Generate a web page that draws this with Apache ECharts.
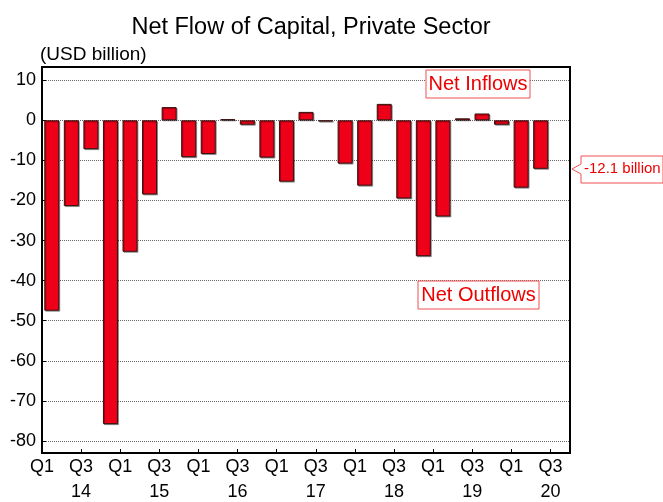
<!DOCTYPE html>
<html>
<head>
<meta charset="utf-8">
<script src="https://cdn.jsdelivr.net/npm/echarts@6/dist/echarts.min.js"></script>
<style>
  html, body { margin: 0; padding: 0; background: #fff; }
  #chart { width: 663px; height: 502px; }
</style>
</head>
<body>
<div id="chart"></div>
<script>
// Trimestres 2014Q1 -> 2020Q3 (le dernier est vide)
const quarters = [
    '14Q1', '14Q2', '14Q3', '14Q4',
    '15Q1', '15Q2', '15Q3', '15Q4',
    '16Q1', '16Q2', '16Q3', '16Q4',
    '17Q1', '17Q2', '17Q3', '17Q4',
    '18Q1', '18Q2', '18Q3', '18Q4',
    '19Q1', '19Q2', '19Q3', '19Q4',
    '20Q1', '20Q2', '20Q3'
];

// Flux net (USD milliards)
const netFlows = [
    -47.5, -21.4, -7.2, -75.8,
    -32.8, -18.5, 3.3, -9.2,
    -8.4, 0.3, -1.1, -9.3,
    -15.3, 2.1, -0.3, -10.8,
    -16.3, 4.1, -19.5, -33.9,
    -24.0, 0.5, 1.7, -1.1,
    -16.8, -12.1
];

// Libellés aux limites entre trimestres (28 limites)
const tickLabels = [
    'Q1', '', 'Q3\n14', '',
    'Q1', '', 'Q3\n15', '',
    'Q1', '', 'Q3\n16', '',
    'Q1', '', 'Q3\n17', '',
    'Q1', '', 'Q3\n18', '',
    'Q1', '', 'Q3\n19', '',
    'Q1', '', 'Q3\n20', ''
];

const yTicks = [-80, -70, -60, -50, -40, -30, -20, -10, 0, 10];

const FONT = '"Liberation Sans", Arial, sans-serif';
const RED = '#ee0018';

const chart = echarts.init(document.getElementById('chart'), null, { renderer: 'canvas' });

const option = {
    animation: false,
    title: {
        text: 'Net Flow of Capital, Private Sector',
        left: 306,
        top: 11,
        textAlign: 'center',
        textStyle: { fontFamily: FONT, fontSize: 23.5, fontWeight: 'normal', color: '#000' }
    },
    grid: {
        left: 42, right: 93, top: 67, bottom: 49,
        outerBoundsMode: 'none',
        containLabel: false,
        show: true,
        borderColor: '#000',
        borderWidth: 2,
        backgroundColor: 'transparent'
    },
    xAxis: [
        {
            type: 'category',
            data: quarters,
            axisLine: { show: false },
            axisTick: { show: false },
            axisLabel: { show: false },
            splitLine: { show: false }
        },
        {
            type: 'category',
            data: tickLabels,
            boundaryGap: false,
            position: 'bottom',
            axisLine: { show: true, lineStyle: { color: '#000', width: 2 } },
            axisTick: { show: true, inside: true, interval: 1, length: 4, lineStyle: { color: '#000' } },
            axisLabel: {
                interval: 0,
                margin: 2,
                fontFamily: FONT,
                fontSize: 18,
                color: '#000',
                lineHeight: 25
            },
            splitLine: { show: false }
        }
    ],
    yAxis: {
        type: 'value',
        min: -83,
        max: 13.3,
        axisLine: { show: true, lineStyle: { color: '#000', width: 2 } },
        axisTick: { show: true, inside: true, length: 4, customValues: yTicks, lineStyle: { color: '#000' } },
        axisLabel: {
            customValues: yTicks,
            margin: 6,
            fontFamily: FONT,
            fontSize: 18,
            color: '#000'
        },
        splitLine: { show: true, lineStyle: { color: '#666', type: 'dotted', width: 1 } }
    },
    series: [
        {
            type: 'bar',
            xAxisIndex: 0,
            data: netFlows,
            barWidth: 15,
            itemStyle: {
                color: RED,
                borderColor: '#3a1010',
                borderWidth: 1,
                shadowColor: 'rgba(0,0,0,0.35)',
                shadowOffsetX: 1,
                shadowOffsetY: 1
            }
        }
    ]
};

chart.setOption(option);

// Annotations
function boxLabel(text, cx, cy, w, h) {
    return {
        type: 'group',
        children: [
            {
                type: 'rect',
                shape: { x: cx - w / 2, y: cy - h / 2, width: w, height: h },
                style: { fill: '#fff', stroke: '#f05050', lineWidth: 1 }
            },
            {
                type: 'text',
                x: cx, y: cy,
                style: {
                    text: text, fill: '#ee0000', font: '20px ' + FONT,
                    align: 'center', verticalAlign: 'middle'
                }
            }
        ]
    };
}

const last = netFlows[netFlows.length - 1];
const py = Math.round(chart.convertToPixel({ yAxisIndex: 0 }, last));

chart.setOption({
    graphic: [
        {
            type: 'text',
            left: 40, top: 45,
            style: { text: '(USD billion)', fill: '#000', font: '19px ' + FONT }
        },
        boxLabel('Net Inflows', 478, 84, 104, 28),
        boxLabel('Net Outflows', 478.5, 295, 121, 28),
        {
            type: 'polygon',
            shape: {
                points: [[572, py], [581, py - 5], [581, py - 13], [663, py - 13],
                         [663, py + 14], [581, py + 14], [581, py + 5]]
            },
            style: { fill: '#fff', stroke: '#f05050', lineWidth: 1 }
        },
        {
            type: 'text',
            x: 584, y: py,
            style: {
                text: last.toFixed(1) + ' billion', fill: '#ee0000', font: '15px ' + FONT,
                verticalAlign: 'middle'
            }
        }
    ]
});
</script>
</body>
</html>
